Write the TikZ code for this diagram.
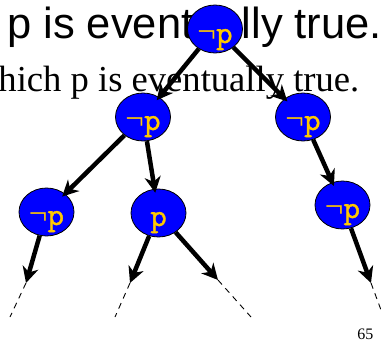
\documentclass[tikz,border=0pt]{standalone}
\usepackage{fontspec}
\usetikzlibrary{arrows.meta,shapes.geometric}
\newfontfamily\arialf{Liberation Sans}
\newfontfamily\timesf{Liberation Serif}
\newfontfamily\courf[FakeBold=1.2]{Latin Modern Mono}
\definecolor{nodeblue}{RGB}{0,0,255}
\definecolor{labgold}{RGB}{255,200,0}
\newcommand{\negsym}{{\timesf\fontsize{33}{33}\selectfont ¬}}
\tikzset{
  state/.style={ellipse, draw=black, line width=0.8pt, fill=nodeblue, minimum width=55pt, minimum height=48pt, inner sep=0pt},
  lab/.style={anchor=base, inner sep=0pt, text=labgold, font=\courf\fontsize{32}{32}\selectfont},
  arr/.style={line width=4.5pt, -{Stealth[length=16pt,width=16pt,inset=5pt]}, shorten >=-4pt},
  cont/.style={line width=0.9pt, dash pattern=on 6pt off 5pt},
}
\begin{document}
\begin{tikzpicture}[x=1pt,y=-1pt]
\useasboundingbox (0,0) rectangle (381,345);
\clip (0,0) rectangle (381,345);
% background text
\node[anchor=base west, inner sep=0pt, font=\arialf\fontsize{43.5}{43.5}\selectfont] (t1) at (7,39) {p is eventually true.};
\node[anchor=base east, inner sep=0pt, font=\timesf\fontsize{36.6}{36.6}\selectfont] (t2) at (359.5,92) {which p is eventually true.};
\node[anchor=base east, inner sep=0pt, font=\timesf\fontsize{16}{16}\selectfont] (pg) at (373.5,339) {65};
% states
\node[state] (n1) at (215,29) {};
\node[state] (n2) at (143,117) {};
\node[state] (n3) at (303,117) {};
\node[state] (n4) at (46.5,212) {};
\node[state] (n5) at (158.5,213) {};
\node[state] (n6) at (342.5,205) {};
\node[lab] (l1) at ([yshift=-14pt]n1.center) {\negsym\bfseries p};
\node[lab] (l2) at ([yshift=-13pt]n2.center) {\negsym\bfseries p};
\node[lab] (l3) at ([yshift=-13pt]n3.center) {\negsym\bfseries p};
\node[lab] (l4) at ([yshift=-13pt]n4.center) {\negsym\bfseries p};
\node[lab] (l5) at ([yshift=-13pt]n5.center) {\bfseries p};
\node[lab] (l6) at ([yshift=-13pt]n6.center) {\negsym\bfseries p};
% free ends
\coordinate (a4) at (26,283);
\coordinate (e4) at (10,317);
\coordinate (a5) at (130,283);
\coordinate (e5) at (115,317);
\coordinate (b5) at (218,280);
\coordinate (f5) at (251,317);
\coordinate (a6) at (371,283);
\coordinate (e6) at (384,318);
% arrows
\draw[arr] (n1) -- (n2);
\draw[arr] (n1) -- (n3);
\draw[arr] (n2) -- (n4);
\draw[arr] (n2) -- (n5);
\draw[arr] (n3) -- (n6);
\draw[arr, shorten >=0pt] (n4) -- (a4);
\draw[arr, shorten >=0pt] (n5) -- (a5);
\draw[arr, shorten >=0pt] (n5) -- (b5);
\draw[arr, shorten >=0pt] (n6) -- (a6);
\draw[cont] (a4) -- (e4);
\draw[cont] (a5) -- (e5);
\draw[cont] (b5) -- (f5);
\draw[cont] (a6) -- (e6);
\end{tikzpicture}
\end{document}
